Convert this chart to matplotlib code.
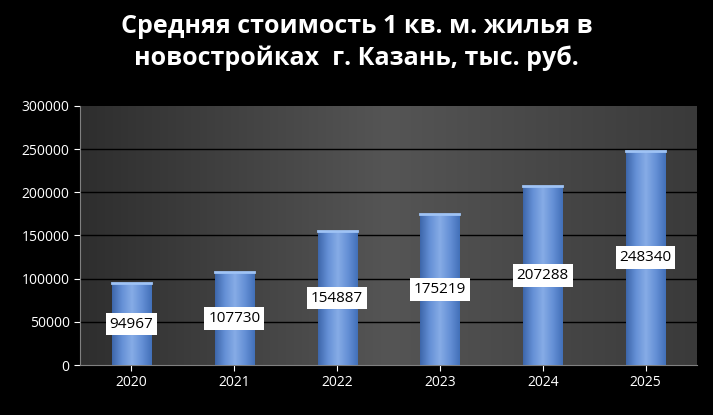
import matplotlib.pyplot as plt
import numpy as np

years = ["2020", "2021", "2022", "2023", "2024", "2025"]
prices = [94967, 107730, 154887, 175219, 207288, 248340]
yticks = [0, 50000, 100000, 150000, 200000, 250000, 300000]

plt.rcParams['font.family'] = ['Open Sans', 'DejaVu Sans']

fig = plt.figure(figsize=(7.13, 4.15), dpi=100, facecolor="black")
ax = fig.add_axes([80 / 713, 50 / 415, 617 / 713, 259 / 415])
ax.set_facecolor("#404040")

x = np.arange(len(years))
ax.set_xlim(-0.5, len(years) - 0.5)
ax.set_ylim(0, 300000)

# plot-area gradient
grad = np.linspace(0, 1, 256).reshape(1, -1)
ax.imshow(grad, cmap=plt.matplotlib.colors.LinearSegmentedColormap.from_list(
    "bg", ["#2e2e2e", "#555555", "#3a3a3a"]), aspect="auto",
    extent=(-0.5, len(years) - 0.5, 0, 300000), zorder=0)

for t in yticks[1:-1]:
    ax.axhline(t, color="black", lw=1, zorder=1)

bars = ax.bar(x, prices, width=0.38, color="#5b8ad0", zorder=2)
bar_cmap = plt.matplotlib.colors.LinearSegmentedColormap.from_list(
    "bar", ["#3d66aa", "#6590d6", "#86ace6", "#6590d6", "#4270b8"])
for b in bars:
    x0 = b.get_x()
    w = b.get_width()
    im = ax.imshow(grad, cmap=bar_cmap, aspect="auto",
                   extent=(x0, x0 + w, 0, b.get_height()), zorder=3)
    im.set_clip_path(b)
    ax.plot([x0, x0 + w], [b.get_height()] * 2, color="#9fc3f5", lw=2, zorder=4)

for xi, v in zip(x, prices):
    ax.text(xi, v / 2, str(v), ha="center", va="center", fontsize=11,
            color="black", zorder=5,
            bbox=dict(boxstyle="square,pad=0.25", fc="white", ec="none"))

ax.set_xticks(x)
ax.set_xticklabels(years)
ax.set_yticks(yticks)
ax.set_yticklabels([str(t) for t in yticks])
ax.tick_params(colors="white", labelsize=10, length=4)
for s in ["top", "right"]:
    ax.spines[s].set_visible(False)
for s in ["left", "bottom"]:
    ax.spines[s].set_color("#808080")

fig.text(0.5, 0.83, "Средняя стоимость 1 кв. м. жилья в\nновостройках  г. Казань, тыс. руб.",
         ha="center", va="bottom", color="white", fontsize=18, fontweight="bold",
         linespacing=1.3)

fig.savefig("out.png", dpi=100, facecolor="black")
